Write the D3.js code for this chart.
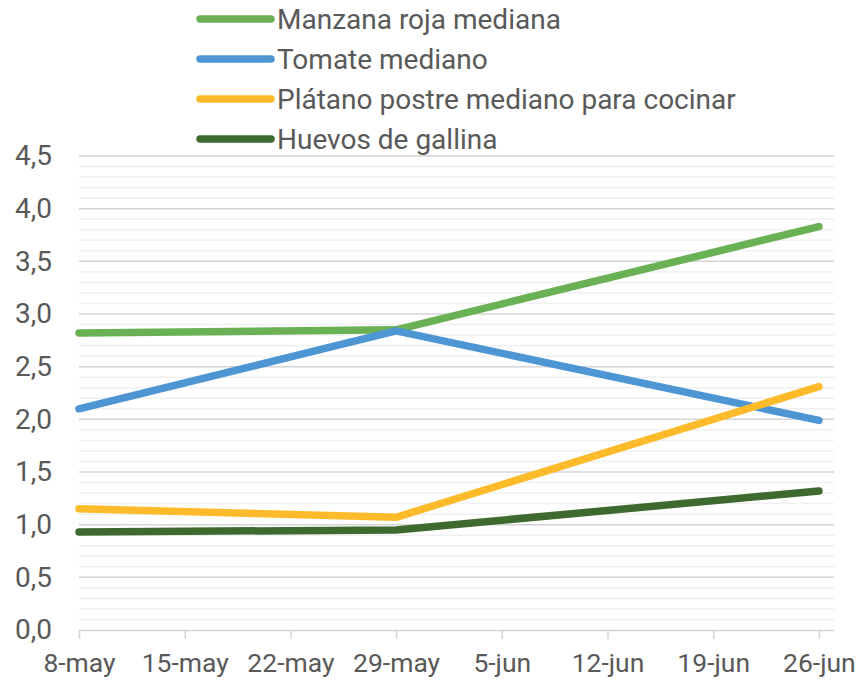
<!DOCTYPE html>
<html lang="es">
<head>
<meta charset="utf-8" />
<title>Precios</title>
<style>
  body { margin: 0; padding: 0; background: #fff; }
  svg text { font-family: Roboto, "Open Sans", sans-serif; fill: #595959; }
  .grid-minor line { stroke: #f0f0f0; stroke-width: 1.5px; }
  .grid-major line { stroke: #d4d4d4; stroke-width: 1.5px; }
  .series { fill: none; stroke-width: 7.5px; stroke-linecap: round; stroke-linejoin: round; }
</style>
</head>
<body>
<div id="chart"></div>
<script src="https://d3js.org/d3.v7.min.js"></script>
<script>
// fechas de los puntos medidos
const dates = ['2021-05-08', '2021-05-29', '2021-06-26'];
const seriesNames = ['Manzana roja mediana', 'Tomate mediano', 'Plátano postre mediano para cocinar', 'Huevos de gallina'];
const manzana = [2.82, 2.85, 3.83];
const tomate = [2.10, 2.84, 1.99];
const platano = [1.15, 1.07, 2.31];
const huevos = [0.93, 0.95, 1.32];
const colors = ['#6ab155', '#4e96d3', '#fdbb2b', '#3e6a2f'];
const tickDates = ['2021-05-08', '2021-05-15', '2021-05-22', '2021-05-29', '2021-06-05', '2021-06-12', '2021-06-19', '2021-06-26'];
const tickLabels = ['8-may', '15-may', '22-may', '29-may', '5-jun', '12-jun', '19-jun', '26-jun'];
const yTicks = [0, 0.5, 1, 1.5, 2, 2.5, 3, 3.5, 4, 4.5];

const parse = d3.timeParse('%Y-%m-%d');
const W = 865, H = 685;
const margin = { left: 79, right: 31, top: 156, bottom: 55 };

const svg = d3.select('#chart').append('svg')
    .attr('width', W)
    .attr('height', H);

const x = d3.scaleTime()
    .domain([parse('2021-05-08'), parse('2021-06-27')])
    .range([margin.left, W - margin.right]);

const y = d3.scaleLinear()
    .domain([0, 4.5])
    .range([H - margin.bottom, margin.top]);

// lineas menores cada 0,1
const minor = d3.range(1, 45).map(i => i / 10).filter(v => Math.round(v * 10) % 5 !== 0);
svg.append('g').attr('class', 'grid-minor')
  .selectAll('line').data(minor).enter().append('line')
    .attr('x1', x.range()[0]).attr('x2', x.range()[1])
    .attr('y1', d => y(d)).attr('y2', d => y(d));

svg.append('g').attr('class', 'grid-major')
  .selectAll('line').data(yTicks.slice(1)).enter().append('line')
    .attr('x1', x.range()[0]).attr('x2', x.range()[1])
    .attr('y1', d => y(d)).attr('y2', d => y(d));

// eje y (solo etiquetas)
const yAxis = svg.append('g')
    .attr('transform', `translate(${margin.left},0)`)
    .call(d3.axisLeft(y).tickValues(yTicks).tickSize(0).tickPadding(27)
      .tickFormat(d => d.toFixed(1).replace('.', ',')));
yAxis.select('.domain').remove();
yAxis.selectAll('text').style('font-size', '28px');

// eje x
const xAxis = svg.append('g')
    .attr('transform', `translate(0,${y(0)})`)
    .call(d3.axisBottom(x).tickValues(tickDates.map(parse)).tickSize(9).tickPadding(14)
      .tickFormat((d, i) => tickLabels[i]));
xAxis.select('.domain').attr('stroke', '#d4d4d4').attr('stroke-width', 1.5)
    .attr('d', `M${x.range()[0]},0.5V0.5H${x.range()[1]}`);
xAxis.selectAll('.tick line').attr('stroke', '#d4d4d4').attr('stroke-width', 1.5);
xAxis.selectAll('text').style('font-size', '26.5px');

// series
const allSeries = [manzana, tomate, platano, huevos];
const line = d3.line()
    .x((d, i) => x(parse(dates[i])))
    .y(d => y(d));

svg.append('g').selectAll('path').data(allSeries).enter().append('path')
    .attr('class', 'series')
    .attr('stroke', (d, i) => colors[i])
    .attr('d', line);

// leyenda
const legend = svg.append('g').selectAll('g').data(seriesNames).enter().append('g')
    .attr('transform', (d, i) => `translate(200,${19 + i * 40})`);
legend.append('line')
    .attr('x1', 0).attr('x2', 71).attr('y1', 0).attr('y2', 0)
    .attr('stroke', (d, i) => colors[i])
    .attr('stroke-width', 7.5)
    .attr('stroke-linecap', 'round');
legend.append('text')
    .attr('x', 77).attr('dy', '0.35em')
    .style('font-size', '28px')
    .text(d => d);
</script>
</body>
</html>
